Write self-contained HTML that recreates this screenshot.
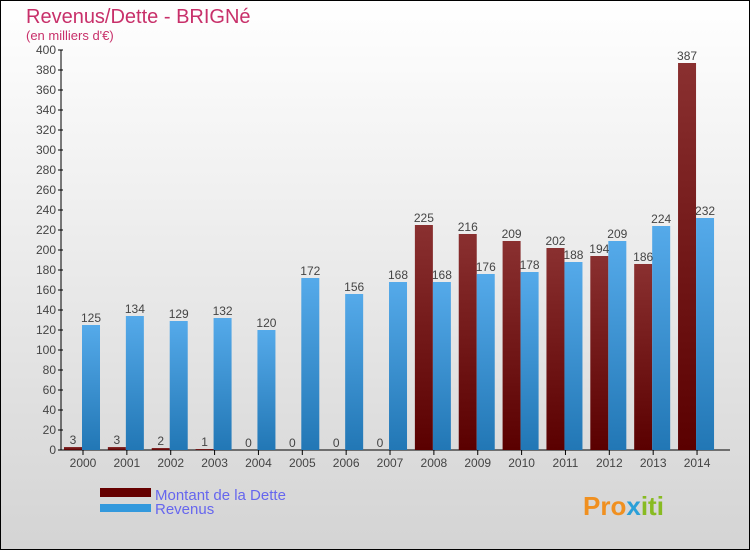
<!DOCTYPE html>
<html><head><meta charset="utf-8"><style>
body{margin:0}
#c{width:750px;height:550px;position:relative;box-sizing:border-box;border:1px solid #000;background:linear-gradient(#ffffff,#d4d4d4);font-family:"Liberation Sans",sans-serif;overflow:hidden}
</style></head><body>
<div id="c">
<svg id="s" width="750" height="550" style="position:absolute;left:-1px;top:-1px">
<defs>
<linearGradient id="gd" x1="0" y1="0" x2="0" y2="1"><stop offset="0" stop-color="#8a3030"/><stop offset="1" stop-color="#5a0000"/></linearGradient>
<linearGradient id="gr" x1="0" y1="0" x2="0" y2="1"><stop offset="0" stop-color="#55aaea"/><stop offset="1" stop-color="#2277b5"/></linearGradient>
</defs>
<text x="26" y="23" font-size="20" fill="#c8306a">Revenus/Dette - BRIGNé</text>
<text x="26" y="40" font-size="13" fill="#c8306a">(en milliers d'€)</text>
<g id="axes"></g>
<g id="bars"></g>
<rect x="100" y="488" width="51" height="9" fill="#660000"/>
<rect x="100" y="504" width="51" height="8" fill="#3399dd"/>
<text x="155" y="500" font-size="15" fill="#6666ee">Montant de la Dette</text>
<text x="155" y="514" font-size="15" fill="#6666ee">Revenus</text>
<text x="583" y="515" font-size="26" font-weight="bold" fill="#f09020">Pro<tspan fill="#2aa0d8">x</tspan><tspan fill="#88bb22">iti</tspan></text>
</svg>
</div>
<script>
const years=["2000","2001","2002","2003","2004","2005","2006","2007","2008","2009","2010","2011","2012","2013","2014"];
const dette=[3,3,2,1,0,0,0,0,225,216,209,202,194,186,387];
const revenus=[125,134,129,132,120,172,156,168,168,176,178,188,209,224,232];
const yTicks=[0,20,40,60,80,100,120,140,160,180,200,220,240,260,280,300,320,340,360,380,400];
const NS="http://www.w3.org/2000/svg";
const y=v=>450-v*1.0;
const xc=i=>83+i*43.86;
function mk(t,a,p){const e=document.createElementNS(NS,t);for(const k in a)e.setAttribute(k,a[k]);p.appendChild(e);return e;}
const ax=document.getElementById('axes'),bg=document.getElementById('bars');
const yl=mk('line',{x1:61,y1:50,x2:61,y2:450,stroke:'#000'},ax);


const xl=mk('line',{x1:61,y1:450,x2:730,y2:450,stroke:'#000'},ax);


yTicks.forEach(v=>{
 mk('line',{x1:58,x2:63,y1:y(v),y2:y(v),stroke:'#000'},ax);
 const t=mk('text',{x:56,y:y(v)+4,'font-size':12,'text-anchor':'end',fill:'#444'},ax);t.textContent=v;
 
 
});
years.forEach((yr,i)=>{
 const c=xc(i);
 mk('line',{x1:c,x2:c,y1:450,y2:455,stroke:'#000'},ax);
 const t=mk('text',{x:c,y:467,'font-size':12,'text-anchor':'middle',fill:'#444'},ax);t.textContent=yr;
 
 
 const d=mk('rect',{x:c-19,y:y(dette[i]),width:18,height:450-y(dette[i]),fill:'url(#gd)'},bg);
 
 
 const r=mk('rect',{x:c-1,y:y(revenus[i]),width:18,height:450-y(revenus[i]),fill:'url(#gr)'},bg);
 
 
 const dl=mk('text',{x:c-10,y:y(dette[i])-3,'font-size':12,'text-anchor':'middle',fill:'#444'},bg);dl.textContent=dette[i];
 
 
 const rl=mk('text',{x:c+8,y:y(revenus[i])-3,'font-size':12,'text-anchor':'middle',fill:'#444'},bg);rl.textContent=revenus[i];
 
 
});
</script>
</body></html>
